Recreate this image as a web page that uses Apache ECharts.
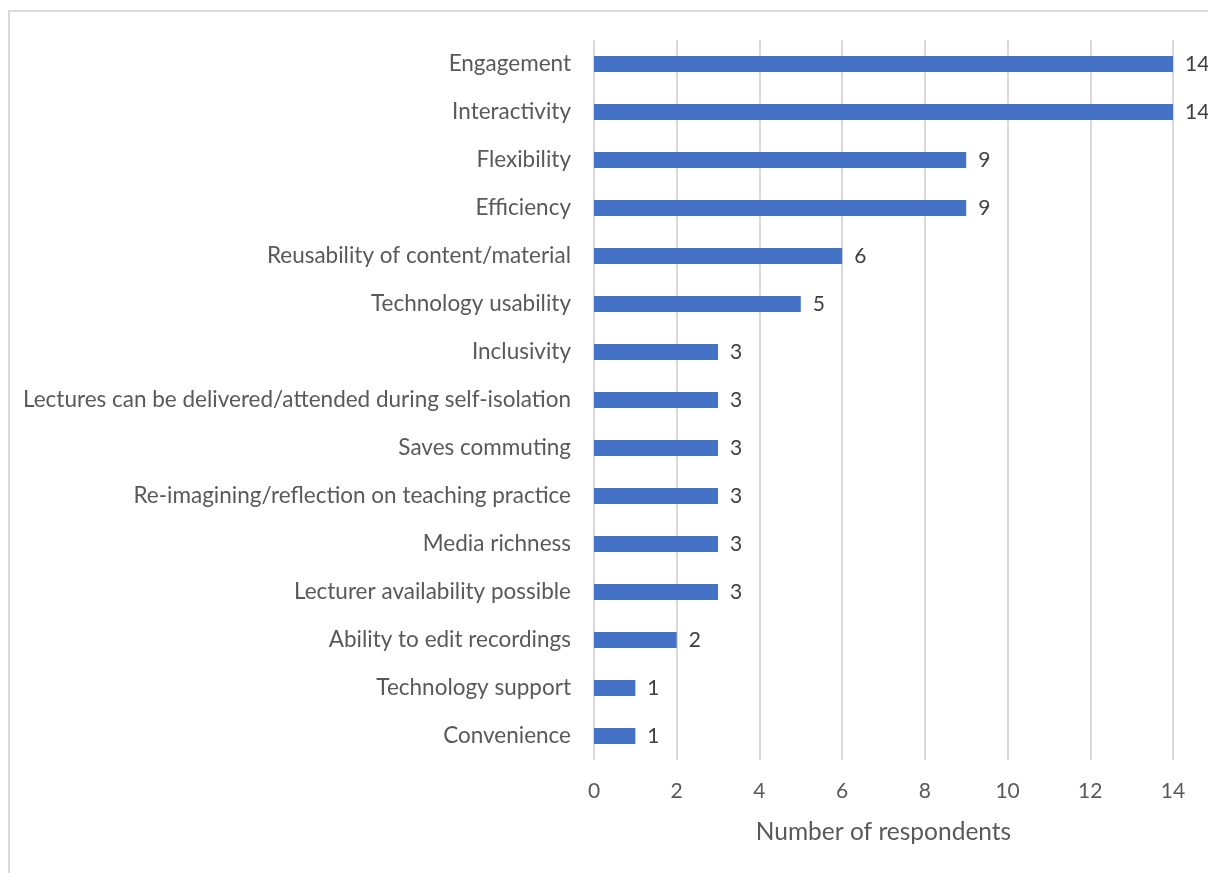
<!DOCTYPE html>
<html>
<head>
<meta charset="utf-8">
<style>
  html, body { margin: 0; padding: 0; background: #ffffff; }
  #frame {
    position: absolute; left: 8px; top: 10px; width: 1220px; height: 880px;
    border-left: 2px solid #d9d9d9; border-top: 2px solid #d9d9d9;
    box-sizing: border-box;
  }
  #chart { position: absolute; left: 0; top: 0; width: 1208px; height: 873px; }
</style>
<script src="https://cdn.jsdelivr.net/npm/echarts@6/dist/echarts.min.js"></script>
</head>
<body>
<div id="frame"></div>
<div id="chart"></div>
<script>
// Benefits reported by respondents (top to bottom)
const categories = [
  'Engagement',
  'Interactivity',
  'Flexibility',
  'Efficiency',
  'Reusability of content/material',
  'Technology usability',
  'Inclusivity',
  'Lectures can be delivered/attended during self-isolation',
  'Saves commuting',
  'Re-imagining/reflection on teaching practice',
  'Media richness',
  'Lecturer availability possible',
  'Ability to edit recordings',
  'Technology support',
  'Convenience'
];
const respondents = [14, 14, 9, 9, 6, 5, 3, 3, 3, 3, 3, 3, 2, 1, 1];
const xTicks = [0, 2, 4, 6, 8, 10, 12, 14];

const font = 'Lato, "Open Sans", sans-serif';
const chart = echarts.init(document.getElementById('chart'), null, { renderer: 'canvas' });
chart.setOption({
  animation: false,
  grid: { left: 594, right: 35, top: 40, bottom: 113, containLabel: false },
  xAxis: {
    type: 'value',
    min: xTicks[0],
    max: xTicks[xTicks.length - 1],
    interval: 2,
    name: 'Number of respondents',
    nameLocation: 'middle',
    nameGap: 60,
    nameTextStyle: { fontFamily: font, fontSize: 24.5, color: '#595959' },
    axisLine: { show: false },
    axisTick: { show: false },
    axisLabel: { fontFamily: font, fontSize: 21, color: '#595959', margin: 21 },
    splitLine: { show: true, lineStyle: { color: '#d9d9d9', width: 2 } }
  },
  yAxis: {
    type: 'category',
    data: categories,
    inverse: true,
    axisLine: { show: false },
    axisTick: { show: false },
    axisLabel: { fontFamily: font, fontSize: 22.5, color: '#595959', margin: 23 }
  },
  series: [{
    type: 'bar',
    data: respondents,
    barWidth: 16,
    itemStyle: { color: '#4472c4' },
    label: {
      show: true,
      position: 'right',
      distance: 12,
      fontFamily: font,
      fontSize: 21,
      color: '#404040'
    }
  }]
});
</script>
</body>
</html>
